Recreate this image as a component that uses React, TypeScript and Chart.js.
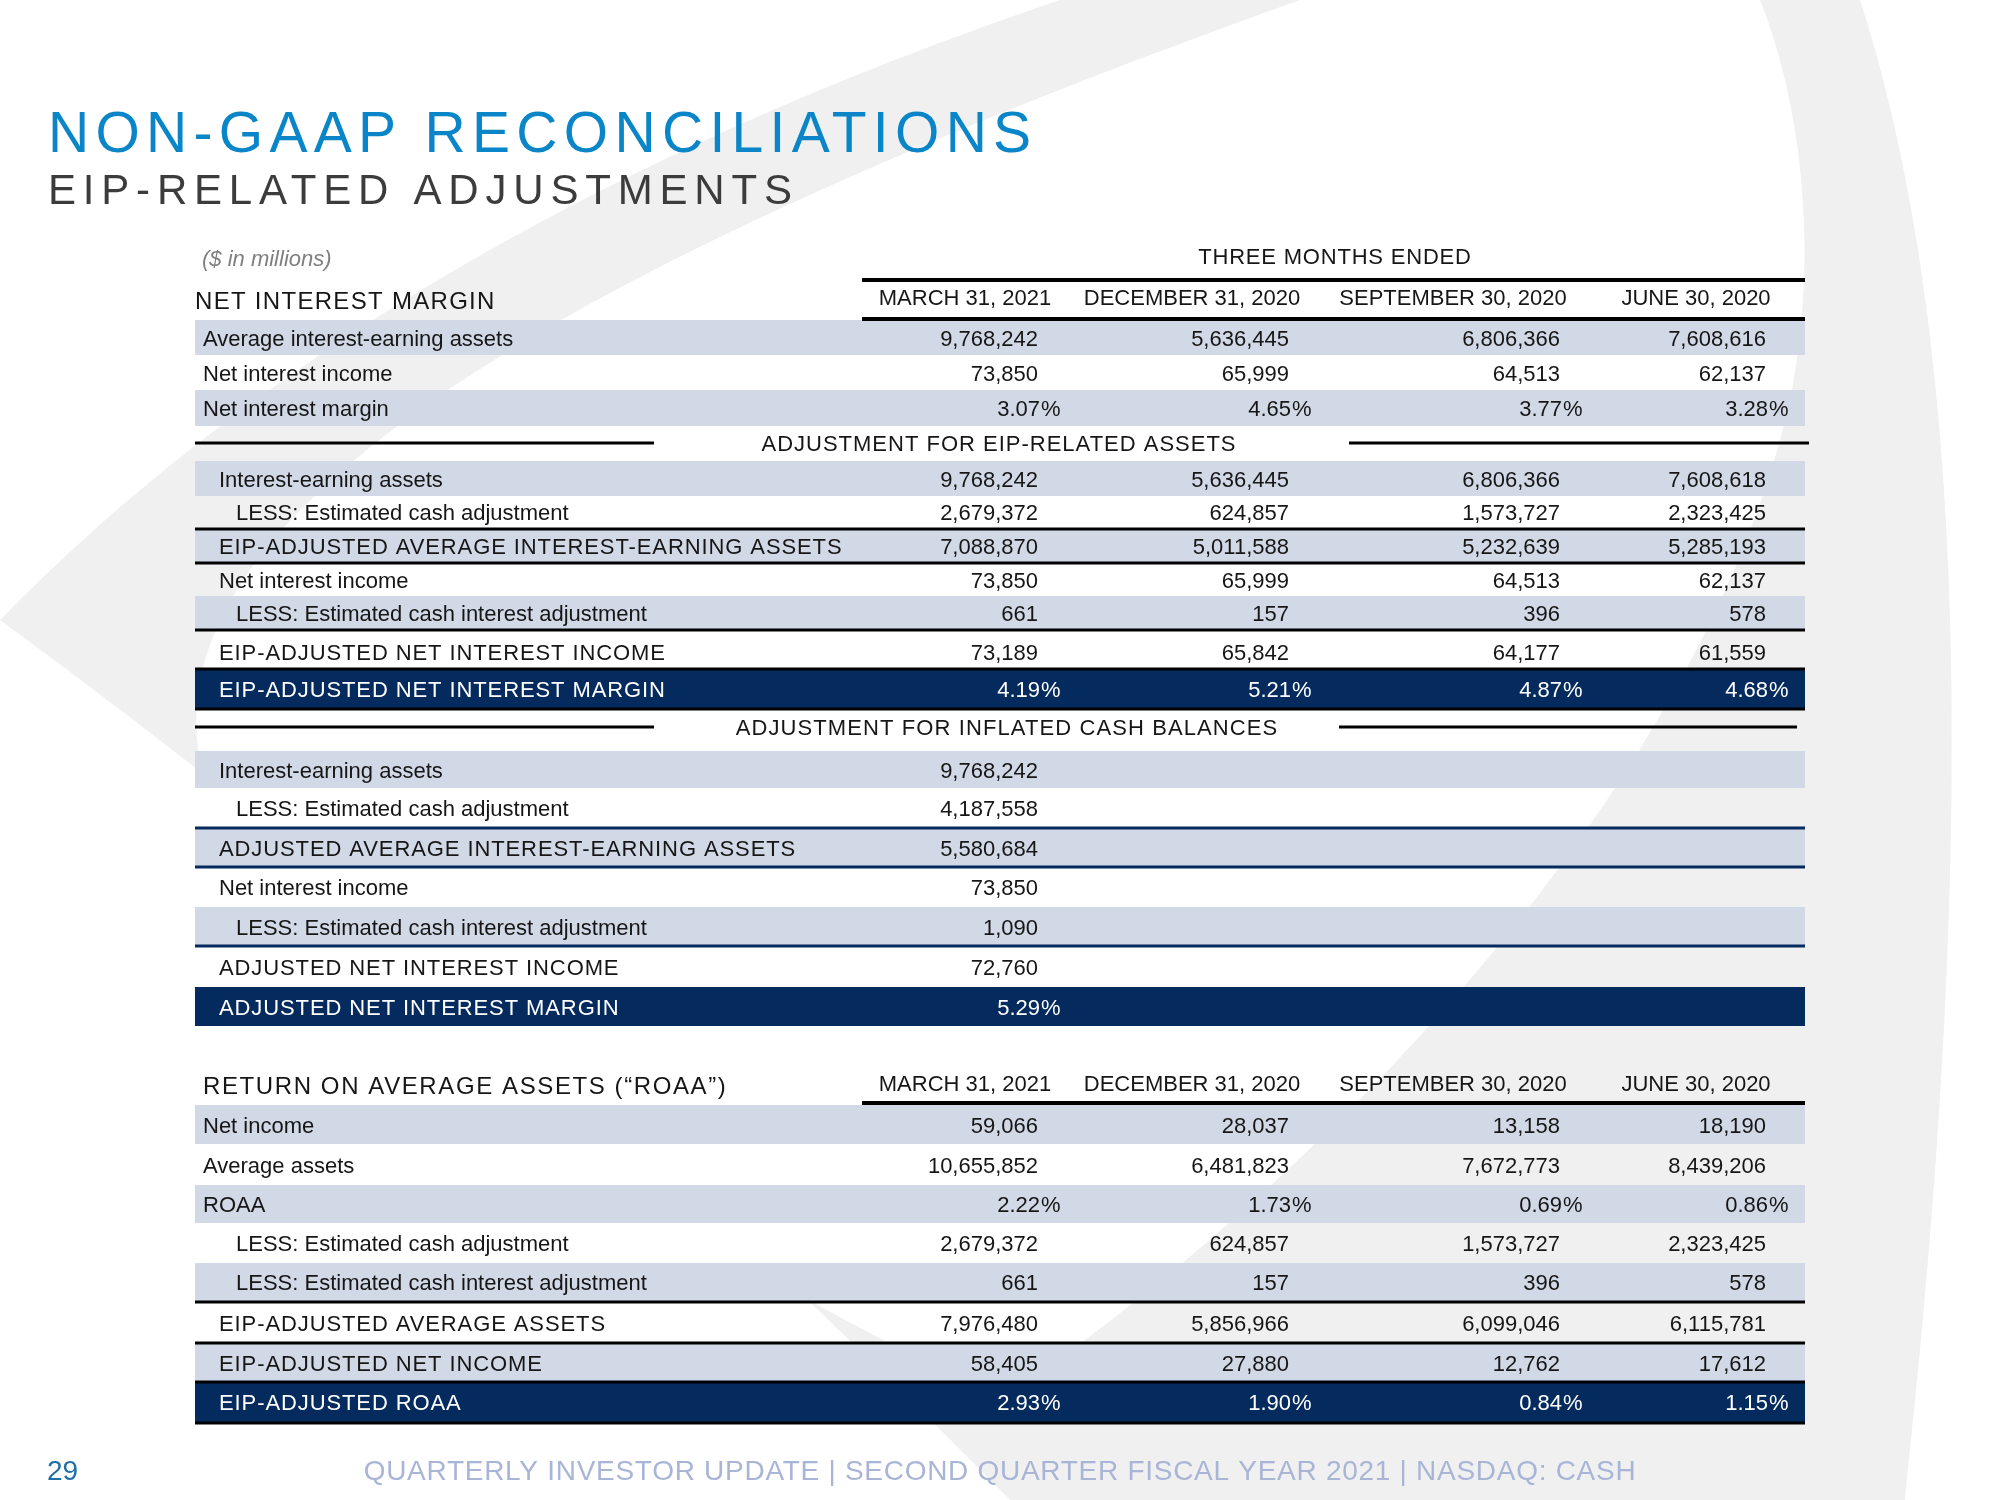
import React, { useEffect, useRef } from "react";
import { Chart, registerables } from "chart.js";

Chart.register(...registerables);

// ---------------- DATA ----------------
const titleText = "NON-GAAP RECONCILIATIONS";
const subtitleText = "EIP-RELATED ADJUSTMENTS";
const unitsNote = "($ in millions)";
const periodHeading = "THREE MONTHS ENDED";
const periods = ["MARCH 31, 2021", "DECEMBER 31, 2020", "SEPTEMBER 30, 2020", "JUNE 30, 2020"];
const footerText = "QUARTERLY INVESTOR UPDATE | SECOND QUARTER FISCAL YEAR 2021 | NASDAQ: CASH";
const pageNumber = "29";

const nimHeading = "NET INTEREST MARGIN";
const eipSection = "ADJUSTMENT FOR EIP-RELATED ASSETS";
const inflatedSection = "ADJUSTMENT FOR INFLATED CASH BALANCES";
const roaaHeading = "RETURN ON AVERAGE ASSETS (\u201CROAA\u201D)";

// Net interest margin
const avgInterestEarningAssets = [9768242, 5636445, 6806366, 7608616];
const netInterestIncome = [73850, 65999, 64513, 62137];
const netInterestMargin = [3.07, 4.65, 3.77, 3.28];

// EIP-related assets
const eipInterestEarningAssets = [9768242, 5636445, 6806366, 7608618];
const eipCashAdjustment = [2679372, 624857, 1573727, 2323425];
const eipAdjAvgInterestEarningAssets = [7088870, 5011588, 5232639, 5285193];
const eipNetInterestIncome = [73850, 65999, 64513, 62137];
const eipCashInterestAdjustment = [661, 157, 396, 578];
const eipAdjNetInterestIncome = [73189, 65842, 64177, 61559];
const eipAdjNetInterestMargin = [4.19, 5.21, 4.87, 4.68];

// Inflated cash balances
const infInterestEarningAssets = [9768242];
const infCashAdjustment = [4187558];
const adjAvgInterestEarningAssets = [5580684];
const infNetInterestIncome = [73850];
const infCashInterestAdjustment = [1090];
const adjNetInterestIncome = [72760];
const adjNetInterestMargin = [5.29];

// ROAA
const netIncome = [59066, 28037, 13158, 18190];
const averageAssets = [10655852, 6481823, 7672773, 8439206];
const roaa = [2.22, 1.73, 0.69, 0.86];
const roaaCashAdjustment = [2679372, 624857, 1573727, 2323425];
const roaaCashInterestAdjustment = [661, 157, 396, 578];
const eipAdjAverageAssets = [7976480, 5856966, 6099046, 6115781];
const eipAdjNetIncome = [58405, 27880, 12762, 17612];
const eipAdjRoaa = [2.93, 1.9, 0.84, 1.15];

// ---------------- LAYOUT / STYLE ----------------
const FONT = "'Liberation Sans', Arial, Helvetica, sans-serif";
const C_BAND = "#d1d8e6";
const C_NAVY = "#052b5e";
const C_TEXT = "#161616";
const C_BLUE = "#0a86c8";
const C_BG = "#f0f0f0";

const TABLE_L = 195;
const TABLE_R = 1805;
const HEAD_L = 862;
const COL_RIGHT = [1038, 1289, 1560, 1766];
const COL_CENTER = [965, 1192, 1453, 1696];
const INDENT = [203, 219, 236];

type Row = {
  label: string;
  values: number[];
  pct?: boolean;
  caps?: boolean;
  indent: number;
  band?: "light" | "dark";
  top: number;
  bottom: number;
};

const rows: Row[] = [
  { label: "Average interest-earning assets", values: avgInterestEarningAssets, indent: 0, band: "light", top: 320, bottom: 355 },
  { label: "Net interest income", values: netInterestIncome, indent: 0, top: 355, bottom: 390 },
  { label: "Net interest margin", values: netInterestMargin, pct: true, indent: 0, band: "light", top: 390, bottom: 426 },

  { label: "Interest-earning assets", values: eipInterestEarningAssets, indent: 1, band: "light", top: 461, bottom: 496 },
  { label: "LESS: Estimated cash adjustment", values: eipCashAdjustment, indent: 2, top: 496, bottom: 528 },
  { label: "EIP-ADJUSTED AVERAGE INTEREST-EARNING ASSETS", values: eipAdjAvgInterestEarningAssets, caps: true, indent: 1, band: "light", top: 529, bottom: 563 },
  { label: "Net interest income", values: eipNetInterestIncome, indent: 1, top: 563, bottom: 596 },
  { label: "LESS: Estimated cash interest adjustment", values: eipCashInterestAdjustment, indent: 2, band: "light", top: 596, bottom: 629 },
  { label: "EIP-ADJUSTED NET INTEREST INCOME", values: eipAdjNetInterestIncome, caps: true, indent: 1, top: 631, bottom: 672 },
  { label: "EIP-ADJUSTED NET INTEREST MARGIN", values: eipAdjNetInterestMargin, pct: true, caps: true, indent: 1, band: "dark", top: 669, bottom: 709 },

  { label: "Interest-earning assets", values: infInterestEarningAssets, indent: 1, band: "light", top: 751, bottom: 788 },
  { label: "LESS: Estimated cash adjustment", values: infCashAdjustment, indent: 2, top: 788, bottom: 828 },
  { label: "ADJUSTED AVERAGE INTEREST-EARNING ASSETS", values: adjAvgInterestEarningAssets, caps: true, indent: 1, band: "light", top: 828, bottom: 867 },
  { label: "Net interest income", values: infNetInterestIncome, indent: 1, top: 867, bottom: 907 },
  { label: "LESS: Estimated cash interest adjustment", values: infCashInterestAdjustment, indent: 2, band: "light", top: 907, bottom: 946 },
  { label: "ADJUSTED NET INTEREST INCOME", values: adjNetInterestIncome, caps: true, indent: 1, top: 946, bottom: 987 },
  { label: "ADJUSTED NET INTEREST MARGIN", values: adjNetInterestMargin, pct: true, caps: true, indent: 1, band: "dark", top: 987, bottom: 1026 },

  { label: "Net income", values: netIncome, indent: 0, band: "light", top: 1105, bottom: 1144 },
  { label: "Average assets", values: averageAssets, indent: 0, top: 1144, bottom: 1185 },
  { label: "ROAA", values: roaa, pct: true, indent: 0, band: "light", top: 1185, bottom: 1223 },
  { label: "LESS: Estimated cash adjustment", values: roaaCashAdjustment, indent: 2, top: 1223, bottom: 1263 },
  { label: "LESS: Estimated cash interest adjustment", values: roaaCashInterestAdjustment, indent: 2, band: "light", top: 1263, bottom: 1301 },
  { label: "EIP-ADJUSTED AVERAGE ASSETS", values: eipAdjAverageAssets, caps: true, indent: 1, top: 1303, bottom: 1343 },
  { label: "EIP-ADJUSTED NET INCOME", values: eipAdjNetIncome, caps: true, indent: 1, band: "light", top: 1343, bottom: 1382 },
  { label: "EIP-ADJUSTED ROAA", values: eipAdjRoaa, pct: true, caps: true, indent: 1, band: "dark", top: 1382, bottom: 1422 },
];

// horizontal rules: [y, x1, x2, width, color]
const rules: [number, number, number, number, string][] = [
  [280, HEAD_L, TABLE_R, 4, "#000"],
  [319, HEAD_L, TABLE_R, 4, "#000"],
  [443, TABLE_L, 654, 3, "#000"],
  [443, 1349, 1809, 3, "#000"],
  [529, TABLE_L, TABLE_R, 3, "#000"],
  [563, TABLE_L, TABLE_R, 3, "#000"],
  [630, TABLE_L, TABLE_R, 3, "#000"],
  [669, TABLE_L, TABLE_R, 3, "#000"],
  [709, TABLE_L, TABLE_R, 3, "#000"],
  [727, TABLE_L, 654, 3, "#000"],
  [727, 1339, 1797, 3, "#000"],
  [828, TABLE_L, TABLE_R, 3, C_NAVY],
  [867, TABLE_L, TABLE_R, 3, C_NAVY],
  [946, TABLE_L, TABLE_R, 3, C_NAVY],
  [1103, HEAD_L, TABLE_R, 4, "#000"],
  [1302, TABLE_L, TABLE_R, 3, "#000"],
  [1343, TABLE_L, TABLE_R, 3, "#000"],
  [1382, TABLE_L, TABLE_R, 3, "#000"],
  [1423, TABLE_L, TABLE_R, 3, "#000"],
];

const fmtNum = (v: number) => v.toLocaleString("en-US");

const tablePlugin = {
  id: "tablePlugin",
  beforeDraw(chart: any) {
    const ctx: CanvasRenderingContext2D = chart.ctx;
    const xs = chart.scales.x;
    const ys = chart.scales.y;
    const X = (v: number) => xs.getPixelForValue(v);
    const Y = (v: number) => ys.getPixelForValue(v);

    ctx.save();
    // page background
    ctx.fillStyle = "#ffffff";
    ctx.fillRect(X(0), Y(0), X(2000) - X(0), Y(1500) - Y(0));

    // decorative swooshes
    ctx.fillStyle = C_BG;
    ctx.beginPath();
    ctx.moveTo(X(1060), Y(0));
    ctx.quadraticCurveTo(X(380), Y(230), X(0), Y(620));
    ctx.quadraticCurveTo(X(520), Y(1000), X(1010), Y(1500));
    ctx.lineTo(X(1905), Y(1500));
    ctx.bezierCurveTo(X(1960), Y(1000), X(1990), Y(400), X(1860), Y(0));
    ctx.closePath();
    ctx.fill();
    ctx.fillStyle = "#ffffff";
    ctx.beginPath();
    ctx.moveTo(X(1300), Y(0));
    ctx.bezierCurveTo(X(600), Y(250), X(150), Y(500), X(200), Y(760));
    ctx.bezierCurveTo(X(250), Y(1000), X(700), Y(1250), X(1000), Y(1400));
    ctx.bezierCurveTo(X(1300), Y(1200), X(1700), Y(800), X(1790), Y(400));
    ctx.bezierCurveTo(X(1820), Y(250), X(1800), Y(100), X(1760), Y(0));
    ctx.closePath();
    ctx.fill();

    const text = (
      s: string,
      x: number,
      y: number,
      size: number,
      color: string,
      align: CanvasTextAlign = "left",
      spacing = 0,
      style = ""
    ) => {
      ctx.font = `${style} ${size}px ${FONT}`;
      (ctx as any).letterSpacing = `${spacing}px`;
      ctx.fillStyle = color;
      ctx.textAlign = align;
      ctx.textBaseline = "alphabetic";
      ctx.fillText(s, X(x), Y(y));
    };

    // titles
    text(titleText, 48, 152, 57, C_BLUE, "left", 6.3);
    text(subtitleText, 48, 204, 42, "#3c3c3c", "left", 6.8);

    // bands
    rows.forEach((r) => {
      if (!r.band) return;
      ctx.fillStyle = r.band === "dark" ? C_NAVY : C_BAND;
      ctx.fillRect(X(TABLE_L), Y(r.top), X(TABLE_R) - X(TABLE_L), Y(r.bottom) - Y(r.top));
    });

    // rules
    rules.forEach(([y, x1, x2, w, c]) => {
      ctx.fillStyle = c;
      ctx.fillRect(X(x1), Y(y - w / 2), X(x2) - X(x1), Y(y + w / 2) - Y(y - w / 2));
    });

    // header texts
    text(unitsNote, 202, 266, 22, "#7f7f7f", "left", 0, "italic");
    text(periodHeading, 1335, 264, 22, C_TEXT, "center", 0.8);
    text(nimHeading, 195, 309, 24, C_TEXT, "left", 1.3);
    periods.forEach((p, i) => text(p, COL_CENTER[i], 305, 22, C_TEXT, "center"));
    text(eipSection, 999, 451, 22, C_TEXT, "center", 1);
    text(inflatedSection, 1007, 735, 22, C_TEXT, "center", 1.1);
    text(roaaHeading, 203, 1094, 24, C_TEXT, "left", 1.6);
    periods.forEach((p, i) => text(p, COL_CENTER[i], 1091, 22, C_TEXT, "center"));

    // rows
    rows.forEach((r) => {
      const cy = (r.top + r.bottom) / 2 + 8;
      const color = r.band === "dark" ? "#ffffff" : C_TEXT;
      text(r.label, INDENT[r.indent], cy, 22, color, "left", r.caps ? 0.9 : 0);
      r.values.forEach((v, i) => {
        if (r.pct) {
          text(v.toFixed(2), COL_RIGHT[i] + 2, cy, 22, color, "right");
          text("%", COL_RIGHT[i] + 3, cy, 22, color, "left");
        } else {
          text(fmtNum(v), COL_RIGHT[i], cy, 22, color, "right");
        }
      });
    });

    // footer
    text(pageNumber, 47, 1480, 28, "#1f6ea6", "left");
    text(footerText, 1000, 1480, 28, "#a9b5d7", "center", 0.72);
    ctx.restore();
  },
};

export default function App() {
  const ref = useRef<HTMLCanvasElement | null>(null);
  useEffect(() => {
    if (!ref.current) return;
    const chart = new Chart(ref.current, {
      type: "scatter",
      data: { datasets: [{ data: [], pointRadius: 0 }] },
      options: {
        animation: false,
        responsive: false,
        devicePixelRatio: 1,
        events: [],
        layout: { padding: 0 },
        plugins: { legend: { display: false }, tooltip: { enabled: false } },
        scales: {
          x: { type: "linear", min: 0, max: 2000, display: false },
          y: { type: "linear", min: 0, max: 1500, reverse: true, display: false },
        },
      },
      plugins: [tablePlugin],
    } as any);
    return () => chart.destroy();
  }, []);
  return (
    <div style={{ position: "absolute", left: 0, top: 0, width: 2000, height: 1500, background: "#fff" }}>
      <canvas ref={ref} width={2000} height={1500} style={{ display: "block", width: 2000, height: 1500 }} />
    </div>
  );
}
